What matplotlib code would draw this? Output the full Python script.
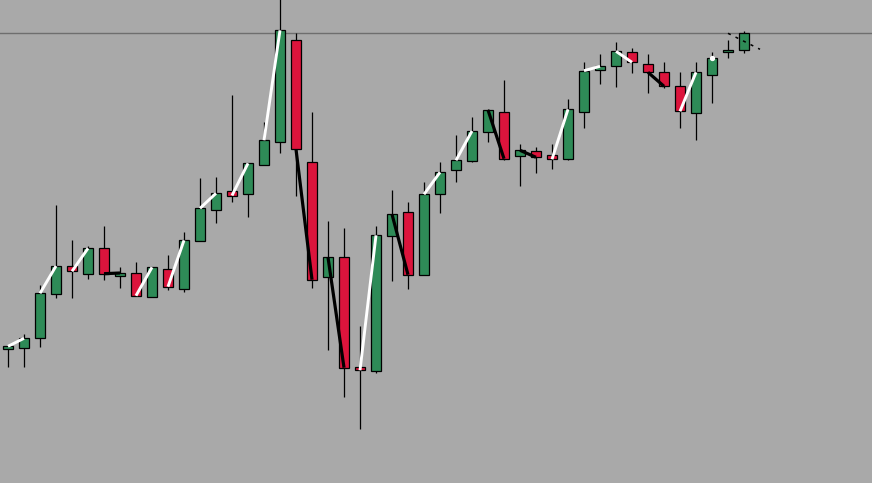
import matplotlib
matplotlib.use('Agg')
import matplotlib.pyplot as plt
import matplotlib.patches as patches

# Colours
bg_color = '#A9A9A9'
up_color = '#2E8B57'
down_color = '#DC143C'
level_color = '#6E6E6E'

# OHLC data, one entry per bar
opens = [134.3, 134.7, 144.7, 189.3, 217.0, 209.3, 234.7, 207.3, 209.7, 185.7,
         213.7, 193.7, 242.3, 273.3, 291.7, 288.7, 317.7, 340.7, 442.7, 320.7,
         205.7, 225.7, 115.7, 111.7, 247.3, 270.7, 208.3, 288.7, 312.7, 322.3,
         351.3, 370.7, 326.7, 331.7, 327.7, 324.3, 370.7, 412.7, 416.7, 430.7,
         418.7, 410.7, 396.7, 369.7, 407.7, 430.7, 432.7]
highs = [136.7, 148.7, 197.7, 278.0, 243.0, 237.0, 257.0, 216.0, 221.0, 215.7,
         228.0, 251.0, 305.0, 306.0, 388.0, 319.7, 360.7, 490.0, 449.7, 370.7,
         262.0, 254.7, 157.0, 257.0, 293.0, 281.0, 301.0, 320.7, 348.0, 366.0,
         373.7, 403.0, 339.0, 336.0, 339.0, 384.0, 421.0, 429.0, 441.0, 435.0,
         429.0, 421.0, 411.0, 421.0, 430.7, 442.7, 451.7]
lows = [116.3, 116.3, 136.3, 185.3, 185.3, 204.3, 203.3, 195.3, 187.3, 185.7,
        193.3, 191.3, 242.3, 260.3, 281.3, 266.3, 317.7, 330.3, 287.3, 195.3,
        133.0, 86.3, 54.3, 109.7, 202.3, 194.3, 208.3, 270.3, 300.7, 321.3,
        341.3, 323.0, 297.3, 310.3, 314.3, 323.0, 355.3, 398.7, 396.3, 410.3,
        390.3, 394.7, 355.3, 343.3, 379.7, 424.7, 430.3]
closes = [136.7, 144.7, 189.7, 217.0, 211.7, 234.7, 209.3, 210.0, 187.3, 215.7,
          196.3, 242.7, 274.7, 289.7, 287.5, 319.7, 342.7, 452.7, 333.7, 203.3,
          225.7, 115.3, 112.7, 247.7, 268.7, 208.3, 288.7, 310.7, 322.7, 352.0,
          373.0, 324.3, 332.7, 325.7, 323.7, 373.7, 412.3, 416.7, 431.7, 420.7,
          410.7, 396.7, 371.7, 410.7, 424.7, 432.7, 449.7]

# close-to-close links between bar pairs (first bar index, colour)
link_starts = [0, 2, 4, 6, 8, 10, 12, 14, 16, 18, 20, 22, 24, 26, 28, 30, 32,
               34, 36, 38, 40, 42]
link_colors = ['white', 'white', 'white', 'black', 'white', 'white', 'white',
               'white', 'white', 'black', 'black', 'white', 'black', 'white',
               'white', 'black', 'black', 'white', 'white', 'white', 'black',
               'white']
pivot_bar = 44

level_price = 449.7
projection_x = [45, 47]
projection_y = [449.7, 433.7]

fig = plt.figure(figsize=(8.72, 4.83), dpi=100, facecolor=bg_color)
ax = fig.add_axes([0, 0, 1, 1])
ax.set_facecolor(bg_color)
ax.set_xlim(-0.5, 54.0)
ax.set_ylim(0, 483)
ax.axis('off')

ax.axhline(level_price, color=level_color, linewidth=1.0, zorder=1)

body_w = 0.6
for i, (o, h, l, c) in enumerate(zip(opens, highs, lows, closes)):
    color = up_color if c >= o else down_color
    ax.vlines(i, l, h, color='black', linewidth=0.9, zorder=2)
    body = patches.Rectangle((i - body_w / 2, min(o, c)), body_w, abs(c - o),
                             facecolor=color, edgecolor='black',
                             linewidth=0.9, zorder=3)
    ax.add_patch(body)

for s, col in zip(link_starts, link_colors):
    lw = 2.1 if col == 'white' else 2.3
    ax.plot([s, s + 1], [closes[s], closes[s + 1]], color=col, linewidth=lw,
            solid_capstyle='butt', zorder=4)

ax.scatter([pivot_bar], [closes[pivot_bar]], s=8, color='white', zorder=4)
ax.plot(projection_x, projection_y, color='black', linewidth=1.1,
        linestyle=(0, (2, 3.5)), zorder=4)

plt.savefig('out.png', dpi=100, facecolor=bg_color)
